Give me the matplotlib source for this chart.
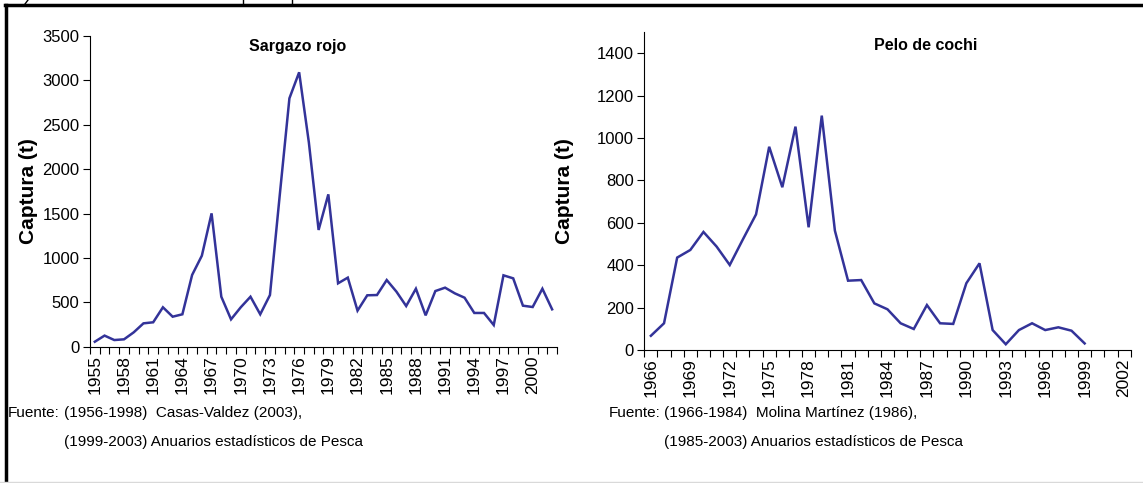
import numpy as np
import matplotlib
matplotlib.use('Agg')
import matplotlib.pyplot as plt
from matplotlib.lines import Line2D

plt.rcParams['font.family'] = ['Liberation Sans', 'DejaVu Sans']

# Sargazo rojo, 1955-2002
sargazo_years = list(range(1955, 2003))
sargazo = [56, 125, 75, 83, 162, 263, 275, 444, 338, 365,
           808, 1025, 1502, 563, 308, 444, 563, 365, 582, 1700,
           2798, 3091, 2300, 1315, 1716, 714, 778, 406, 579, 582,
           751, 620, 458, 653, 353, 627, 665, 601, 552, 380,
           380, 244, 804, 770, 462, 447, 653, 421]

# Pelo de cochi, 1966-2002 (sin datos 2000-2002)
pelo_years = list(range(1966, 2003))
pelo = [67, 126, 436, 472, 557, 488, 401, 522, 640, 959,
        768, 1054, 579, 1106, 563, 327, 330, 220, 192, 126,
        99, 212, 126, 123, 315, 409, 94, 27, 94, 126,
        94, 107, 91, 31, np.nan, np.nan, np.nan]

line_color = '#333399'

fig = plt.figure(figsize=(11.43, 4.83), dpi=100)


def category_axes(rect, years, values, ymax, yticks, label_x):
    ax = fig.add_axes(rect)
    n = len(years)
    x = np.arange(n)
    ax.plot(x, values, color=line_color, lw=1.8, solid_joinstyle='miter')
    ax.set_xlim(-0.5, n - 0.5)
    ax.set_ylim(0, ymax)
    ax.set_yticks(yticks)
    ax.tick_params(axis='y', direction='out', length=5, width=0.8, pad=2.5, labelsize=12)
    ax.set_xticks(x[::3])
    ax.set_xticklabels([str(y) for y in years[::3]], rotation=90, fontsize=12.5)
    ax.set_xticks(np.arange(n + 1) - 0.5, minor=True)
    ax.tick_params(axis='x', which='major', length=0, pad=6)
    ax.tick_params(axis='x', which='minor', direction='out', length=5, width=0.8)
    for s in ['top', 'right']:
        ax.spines[s].set_visible(False)
    for s in ['left', 'bottom']:
        ax.spines[s].set_linewidth(0.8)
    ax.set_ylabel('Captura (t)', fontsize=15, fontweight='bold')
    ax.yaxis.set_label_coords(label_x, 0.5)
    return ax


ax1 = category_axes([0.0787, 0.2822, 0.4086, 0.6433], sargazo_years, sargazo,
                    3500, np.arange(0, 3501, 500), -0.111)
ax2 = category_axes([0.5637, 0.2754, 0.4255, 0.6581], pelo_years, pelo,
                    1500, np.arange(0, 1401, 200), -0.1445)

fig.text(0.26, 0.903, 'Sargazo rojo', fontsize=11.5, fontweight='bold', ha='center', va='center')
fig.text(0.81, 0.905, 'Pelo de cochi', fontsize=11.5, fontweight='bold', ha='center', va='center')

# fuentes
fs = 11
fig.text(8 / 1143, 1 - 413 / 483, 'Fuente:', fontsize=fs, va='center')
fig.text(64 / 1143, 1 - 413 / 483, '(1956-1998)  Casas-Valdez (2003),', fontsize=fs, va='center')
fig.text(64 / 1143, 1 - 442 / 483, '(1999-2003) Anuarios estadísticos de Pesca', fontsize=fs, va='center')
fig.text(609 / 1143, 1 - 413 / 483, 'Fuente:', fontsize=fs, va='center')
fig.text(664 / 1143, 1 - 413 / 483, '(1966-1984)  Molina Martínez (1986),', fontsize=fs, va='center')
fig.text(664 / 1143, 1 - 442 / 483, '(1985-2003) Anuarios estadísticos de Pesca', fontsize=fs, va='center')

# marco de la figura
W, H = 1143, 483
fig.add_artist(Line2D([5 / W, 1], [1 - 5 / H, 1 - 5 / H], color='black', lw=2.5, transform=fig.transFigure))
fig.add_artist(Line2D([6 / W, 6 / W], [0, 1 - 5 / H], color='black', lw=2.5, transform=fig.transFigure))
fig.add_artist(Line2D([0, 1], [1.5 / H, 1.5 / H], color='#d9d9d9', lw=1, transform=fig.transFigure))
# restos del texto superior recortado
fig.add_artist(Line2D([25 / W, 28 / W], [1 - 4 / H, 1], color='black', lw=1, transform=fig.transFigure))
for xp in [243, 292]:
    fig.add_artist(Line2D([xp / W, xp / W], [1 - 4 / H, 1], color='black', lw=1, transform=fig.transFigure))

fig.savefig('out.png', dpi=100)
